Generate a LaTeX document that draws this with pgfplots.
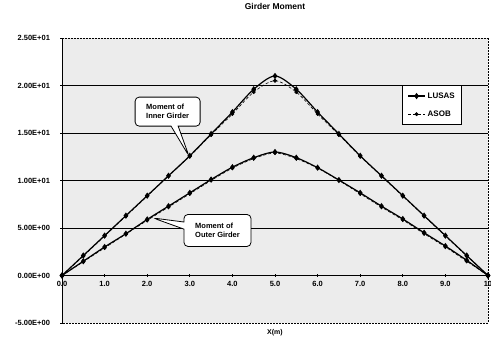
\documentclass[border=0pt]{standalone}
\usepackage{pgfplots}
\pgfplotsset{compat=1.18}
\usepackage{fontspec}
\setmainfont{Liberation Sans}
\usetikzlibrary{shapes.callouts}
\begin{document}
\begin{tikzpicture}[x=1pt,y=1pt]
\useasboundingbox[fill=white] (-62,-16) rectangle (429,323);
\begin{axis}[
  at={(0,0)}, anchor=south west,
  scale only axis, width=426pt, height=285pt,
  xmin=0, xmax=10, ymin=-5, ymax=25,
  axis background/.style={fill=gray!15},
  axis x line=middle, axis y line=left,
  hide obscured x ticks=false,
  axis line style={-, black, line width=0.9pt},
  axis on top=false,
  xtick={0,1,...,10},
  xticklabels={0.0,1.0,2.0,3.0,4.0,5.0,6.0,7.0,8.0,9.0,10},
  ytick={-5,0,5,10,15,20,25},
  yticklabels={-5.00E+00,0.00E+00,5.00E+00,1.00E+01,1.50E+01,2.00E+01,2.50E+01},
  tick label style={font=\fontsize{7.5}{9}\selectfont\bfseries},
  yticklabel style={xshift=-7pt},
  xticklabel style={yshift=-1pt},
  major tick length=3pt,
  tick style={black, line width=0.6pt},
  title={\bfseries Girder Moment},
  title style={font=\fontsize{8.5}{10}\selectfont, at={(0.5,1)}, anchor=center, yshift=26pt},
  xlabel={X(m)},
  xlabel style={font=\fontsize{7}{8}\selectfont\bfseries, at={(0.5,0)}, anchor=center, yshift=-10pt},
  legend style={at={(axis cs:7.98,20.05)}, anchor=north west, draw=black, line width=1pt,
    font=\fontsize{8}{9}\selectfont\bfseries, row sep=7pt, inner xsep=5pt, inner ysep=5pt, fill=white},
  legend cell align=left,
  clip=false,
]
\draw[black, densely dotted, line width=0.5pt] (axis cs:0,25) -- (axis cs:10,25) -- (axis cs:10,-5) -- (axis cs:0,-5);
\draw[black, line width=0.7pt] (axis cs:0,5) -- (axis cs:10,5);
\draw[black, line width=0.7pt] (axis cs:0,10) -- (axis cs:10,10);
\draw[black, line width=0.7pt] (axis cs:0,15) -- (axis cs:10,15);
\draw[black, line width=0.7pt] (axis cs:0,20) -- (axis cs:10,20);

\addplot[black, line width=1.2pt, smooth, mark=diamond*, mark size=2.2pt, mark options={solid}] coordinates {
(0,0) (0.5,2.1) (1,4.2) (1.5,6.3) (2,8.4) (2.5,10.5) (3,12.6) (3.5,14.9) (4,17.2) (4.5,19.6) (5,21.0)
(5.5,19.6) (6,17.2) (6.5,14.9) (7,12.6) (7.5,10.5) (8,8.4) (8.5,6.3) (9,4.2) (9.5,2.1) (10,0)};
\addlegendentry{LUSAS}
\addplot[black, line width=0.6pt, densely dashed, smooth, mark=*, mark size=1.6pt, mark options={solid}] coordinates {
(0,0) (0.5,2.05) (1,4.15) (1.5,6.25) (2,8.35) (2.5,10.45) (3,12.55) (3.5,14.8) (4,17.0) (4.5,19.3) (5,20.5)
(5.5,19.3) (6,17.0) (6.5,14.8) (7,12.55) (7.5,10.45) (8,8.35) (8.5,6.25) (9,4.15) (9.5,2.05) (10,0)};
\addlegendentry{ASOB}
\addplot[black, line width=1.2pt, smooth, mark=diamond*, mark size=2.2pt, forget plot] coordinates {
(0,0) (0.5,1.5) (1,3.0) (1.5,4.4) (2,5.9) (2.5,7.3) (3,8.7) (3.5,10.1) (4,11.4) (4.5,12.4) (5,13.0)
(5.5,12.4) (6,11.35) (6.5,10.05) (7,8.7) (7.5,7.3) (8,5.95) (8.5,4.5) (9,3.1) (9.5,1.6) (10,0)};
\addplot[black, line width=0.6pt, densely dashed, smooth, mark=*, mark size=1.6pt, mark options={solid}, forget plot] coordinates {
(0,0) (0.5,1.45) (1,2.9) (1.5,4.35) (2,5.8) (2.5,7.2) (3,8.6) (3.5,10.0) (4,11.3) (4.5,12.3) (5,12.9)
(5.5,12.3) (6,11.3) (6.5,10.0) (7,8.6) (7.5,7.2) (8,5.85) (8.5,4.4) (9,3.0) (9.5,1.5) (10,0)};

\node[rectangle callout, rounded corners=4pt, draw=black, line width=0.8pt, fill=white,
  align=left, font=\fontsize{7.5}{9}\selectfont\bfseries, inner sep=3pt, minimum width=65pt, minimum height=29pt,
  callout absolute pointer={(axis cs:2.98,12.58)}] at (axis cs:2.48,17.25) {Moment of\\Inner Girder};
\node[rectangle callout, rounded corners=4pt, draw=black, line width=0.8pt, fill=white,
  align=left, font=\fontsize{7.5}{9}\selectfont\bfseries, inner sep=3pt, minimum width=67pt, minimum height=32pt,
  callout absolute pointer={(axis cs:2.14,6.05)}] at (axis cs:3.65,4.74) {Moment of\\Outer Girder};
\end{axis}
\end{tikzpicture}
\end{document}
